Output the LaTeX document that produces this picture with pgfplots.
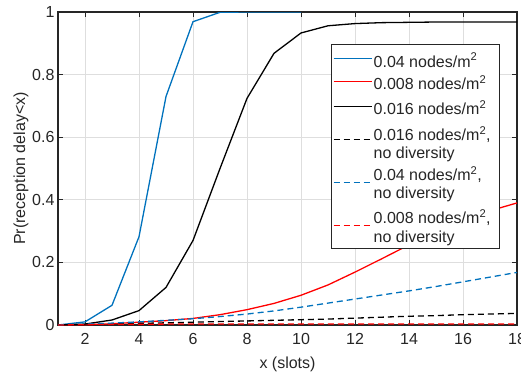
\documentclass[border=0pt]{standalone}
\usepackage{pgfplots}
\pgfplotsset{compat=1.18}
\usepackage{fontspec}
\setmainfont{Liberation Sans}
\definecolor{mblue}{rgb}{0,0.447,0.741}
\definecolor{axgray}{rgb}{0.15,0.15,0.15}
\definecolor{gridgray}{rgb}{0.87,0.87,0.87}
\newcommand{\msq}{m\textsuperscript{2}}
\newcommand{\lt}[2]{\raisebox{#1}{#2}}
\pgfplotsset{sh/.style={legend image code/.code={\path[draw=none, fill=none] (0pt,0pt) -- (38pt,0pt); \draw[##1, line width=1.3pt, overlay] (0pt,#1) -- (38pt,#1);}}}
\begin{document}
\begin{tikzpicture}[font=\fontsize{16}{19}\selectfont]
\begin{axis}[
  name=ax,
  scale only axis, width=459pt, height=313pt,
  xmin=1, xmax=18, ymin=0, ymax=1,
  xtick={2,4,6,8,10,12,14,16,18},
  ytick={0,0.2,0.4,0.6,0.8,1},
  yticklabels={0,0.2,0.4,0.6,0.8,1},
  /pgf/number format/assume math mode=true,
  tick align=inside, tick pos=both,
  major tick length=5pt,
  grid=major,
  major grid style={gridgray, line width=0.9pt},
  axis line style={axgray, line width=1.1pt},
  tick style={axgray, line width=0.9pt},
  ticklabel style={text=axgray},
  xticklabel style={yshift=-5pt},
  xlabel={x (slots)}, ylabel={Pr(reception delay<x)},
  label style={text=axgray},
  xlabel style={yshift=-5pt},
  ylabel style={yshift=-3pt},
  legend cell align=left,
  legend style={at={(0.595,0.898)}, anchor=north west, draw=axgray, line width=1.1pt,
    inner xsep=2pt, inner ysep=6.35pt, /tikz/row sep=5.875pt,
    nodes={inner xsep=2pt, inner ysep=0pt, text=axgray, text height=12pt, text depth=4pt}},
  sh=0pt,
  every axis plot/.append style={line width=1.3pt},
]
\addplot[mblue, sh=0pt] coordinates {(1,0)(2,0.01)(3,0.063)(4,0.282)(5,0.73)(6,0.969)(7,0.999)(8,1)(9,1)(10,1)};
\addlegendentry{\lt{-4.35pt}{0.04 nodes/\msq}}
\addplot[red, sh=-0.5pt] coordinates {(1,0)(2,0.001)(3,0.004)(4,0.009)(5,0.014)(6,0.021)(7,0.033)(8,0.049)(9,0.069)(10,0.095)(11,0.128)(12,0.169)(13,0.212)(14,0.256)(15,0.298)(16,0.335)(17,0.365)(18,0.39)};
\addlegendentry{\lt{-5.1pt}{0.008 nodes/\msq}}
\addplot[black, sh=-3.6pt] coordinates {(1,0)(2,0.003)(3,0.016)(4,0.046)(5,0.12)(6,0.27)(7,0.5)(8,0.724)(9,0.868)(10,0.933)(11,0.956)(12,0.963)(13,0.966)(14,0.967)(15,0.968)(16,0.968)(17,0.968)(18,0.968)};
\addlegendentry{\lt{-7.9pt}{0.016 nodes/\msq}}
\addplot[black, dash pattern=on 6pt off 4pt, sh=-15pt] coordinates {(1,0)(2,0.001)(3,0.003)(4,0.005)(5,0.007)(6,0.009)(7,0.011)(8,0.013)(9,0.015)(10,0.017)(11,0.019)(12,0.022)(13,0.025)(14,0.028)(15,0.03)(16,0.033)(17,0.035)(18,0.037)};
\addlegendentry{\lt{-12pt}{0.016 nodes/\msq,}}
\addlegendimage{empty legend}
\addlegendentry{\lt{-8.4pt}{no diversity}}
\addplot[mblue, dash pattern=on 6pt off 4pt, sh=-14.6pt] coordinates {(1,0)(2,0.003)(3,0.006)(4,0.01)(5,0.015)(6,0.02)(7,0.027)(8,0.035)(9,0.045)(10,0.057)(11,0.07)(12,0.083)(13,0.096)(14,0.109)(15,0.123)(16,0.138)(17,0.153)(18,0.168)};
\addlegendentry{\lt{-8.3pt}{0.04 nodes/\msq,}}
\addlegendimage{empty legend}
\addlegendentry{\lt{-4.7pt}{no diversity}}
\addplot[red, dash pattern=on 6pt off 4pt, sh=-13.5pt] coordinates {(1,0)(2,0.001)(3,0.002)(4,0.002)(5,0.003)(6,0.003)(7,0.003)(8,0.003)(9,0.003)(10,0.003)(11,0.003)(12,0.003)(13,0.003)(14,0.003)(15,0.003)(16,0.003)(17,0.003)(18,0.003)};
\addlegendentry{\lt{-7.8pt}{0.008 nodes/\msq,}\hspace*{5pt}}
\addlegendimage{empty legend}
\addlegendentry{\lt{-4.35pt}{no diversity}}
\end{axis}
\pgfresetboundingbox
\useasboundingbox ([xshift=-58pt,yshift=-48pt]ax.south west) rectangle ([xshift=4pt,yshift=12pt]ax.north east);
\end{tikzpicture}
\end{document}
